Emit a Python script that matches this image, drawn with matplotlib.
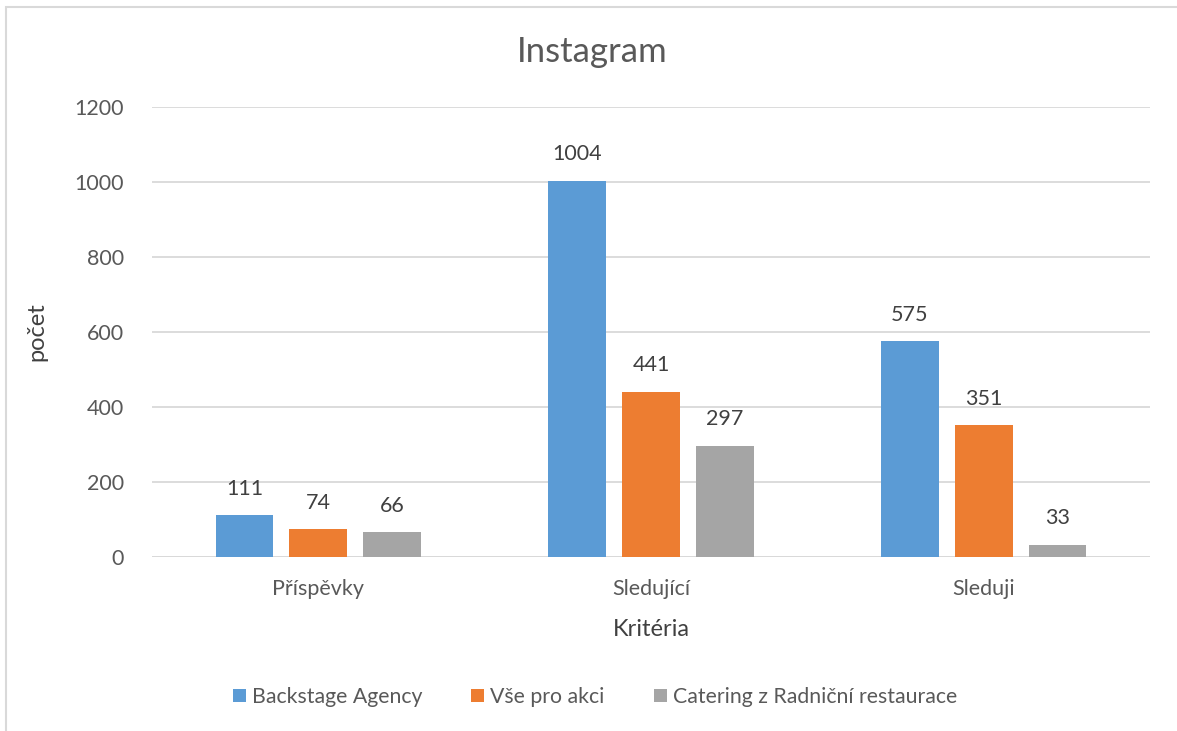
import numpy as np
import matplotlib.pyplot as plt
import matplotlib.patches as patches

# data
categories = ['Příspěvky', 'Sledující', 'Sleduji']
series_names = ['Backstage Agency', 'Vše pro akci', 'Catering z Radniční restaurace']
backstage = [111, 1004, 575]
vse_pro_akci = [74, 441, 351]
catering = [66, 297, 33]
yticks = [0, 200, 400, 600, 800, 1000, 1200]

colors = ['#5B9BD5', '#ED7D31', '#A5A5A5']
plt.rcParams['font.family'] = ['Lato', 'DejaVu Sans']

fig = plt.figure(figsize=(11.77, 7.31), dpi=100)
ax = fig.add_axes([152/1177, 1 - 557/731, 998/1177, 450/731])

x = np.arange(len(categories))
bar_w = 0.174
step = 0.222
for i, vals in enumerate([backstage, vse_pro_akci, catering]):
    bars = ax.bar(x + (i - 1) * step, vals, bar_w, color=colors[i],
                  label=series_names[i], zorder=3)
    for b, v in zip(bars, vals):
        ax.annotate(str(v), (b.get_x() + b.get_width() / 2, v),
                    xytext=(0, 19), textcoords='offset points',
                    ha='center', va='center', fontsize=15.5, color='#404040')

ax.set_xlim(-0.5, 2.5)
ax.set_ylim(0, 1200)
ax.set_yticks(yticks)
ax.set_xticks(x)
ax.set_xticklabels(categories)
ax.yaxis.grid(True, color='#D9D9D9', linewidth=1.3, zorder=0)
ax.tick_params(axis='both', length=0, labelsize=15.5, colors='#595959')
ax.tick_params(axis='y', pad=20)
ax.tick_params(axis='x', pad=16)
for s in ax.spines.values():
    s.set_visible(False)
ax.axhline(0, color='#D9D9D9', linewidth=1.3, zorder=2)

ax.set_ylabel('počet', fontsize=17, color='#404040', labelpad=20)
ax.set_xlabel('Kritéria', fontsize=17, color='#404040', labelpad=14)
fig.text(592/1177, 1 - 52/731, 'Instagram', ha='center', va='center',
         fontsize=25, color='#595959')

ax.legend(loc='center', bbox_to_anchor=(595/1177, 1 - 697/731),
          bbox_transform=fig.transFigure, ncol=3, frameon=False,
          fontsize=15.3, labelcolor='#595959', handlelength=0.6,
          handleheight=0.6, handletextpad=0.3, columnspacing=2.3)

# chart border
fig.patches.append(patches.Rectangle((6/1177, -0.01), 1.02, 1 - 7/731 + 0.01,
                                     transform=fig.transFigure, fill=False,
                                     edgecolor='#D9D9D9', linewidth=1.5))

fig.savefig('out.png', dpi=100)
